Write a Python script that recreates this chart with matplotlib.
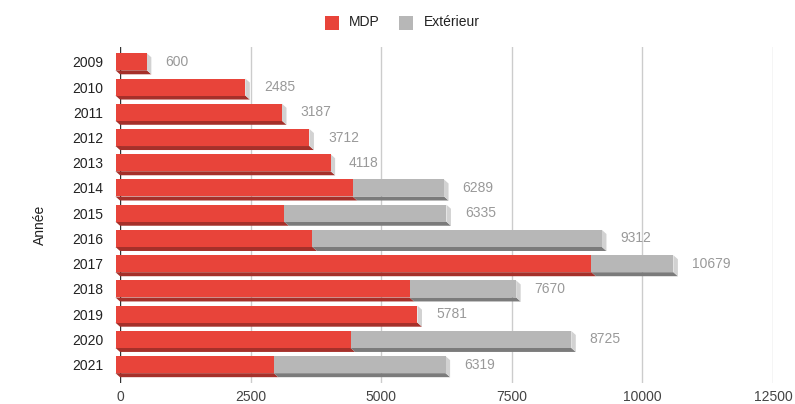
import matplotlib
matplotlib.use("Agg")
import matplotlib.pyplot as plt
from matplotlib.patches import Polygon, Rectangle

plt.rcParams['font.family'] = ['Liberation Sans', 'DejaVu Sans']

years = ["2009", "2010", "2011", "2012", "2013", "2014", "2015", "2016",
         "2017", "2018", "2019", "2020", "2021"]
mdp = [600, 2485, 3187, 3712, 4118, 4540, 3230, 3770, 9110, 5630, 5781, 4500, 3030]
totals = [600, 2485, 3187, 3712, 4118, 6289, 6335, 9312, 10679, 7670, 5781, 8725, 6319]
exterieur = [t - m for t, m in zip(totals, mdp)]
xticks = [0, 2500, 5000, 7500, 10000, 12500]
series_names = ["MDP", "Extérieur"]

W, H = 795, 404
fig = plt.figure(figsize=(W / 100, H / 100), dpi=100)

# axes geometry in pixels
ax_left, ax_right = 120, 773
ax_top, ax_bot = 47, 383
ax = fig.add_axes([ax_left / W, 1 - ax_bot / H, (ax_right - ax_left) / W, (ax_bot - ax_top) / H])

row0, rowstep = 63.8, 25.24
ylo = (ax_bot - row0) / rowstep
yhi = (ax_top - row0) / rowstep
ax.set_xlim(0, 12500)
ax.set_ylim(ylo, yhi)

ux = 12500 / (ax_right - ax_left)   # data units per px
uy = 1 / rowstep                     # rows per px
dx = 4.5 * ux
dy = 4 * uy
half = 10.5 * uy
front_h = 17 * uy

colors = {"MDP": ("#e8443a", "#a5302a"), "Extérieur": ("#b7b7b7", "#7b7b7b")}
side_col = "#d2d2d2"

for i, (m, e) in enumerate(zip(mdp, exterieur)):
    yt = i - half
    yb = yt + front_h
    segs = [(0, m, "MDP")]
    if e > 0:
        segs.append((m, m + e, "Extérieur"))
    for v0, v1, name in segs:
        fc, bc = colors[name]
        ax.add_patch(Polygon([(v0 - dx, yb), (v1 - dx, yb), (v1, yb + dy), (v0, yb + dy)],
                             closed=True, facecolor=bc, edgecolor="none", zorder=3,
                             clip_on=False))
        ax.add_patch(Rectangle((v0 - dx, yt), v1 - v0, front_h,
                               facecolor=fc, edgecolor="none", zorder=4, clip_on=False))
    vend = segs[-1][1]
    ax.add_patch(Polygon([(vend - dx, yt), (vend, yt + dy), (vend, yb + dy), (vend - dx, yb)],
                         closed=True, facecolor=side_col, edgecolor="none", zorder=3,
                         clip_on=False))
    ax.text(vend + 14 * ux, yt + front_h / 2, str(totals[i]), ha="left", va="center",
            fontsize=10, color="#999999", zorder=5)

# grid
for xv in xticks[1:]:
    ax.axvline(xv, color="#cccccc", lw=1, zorder=1)
ax.axvline(0, color="#333333", lw=1, zorder=2)

for s in ax.spines.values():
    s.set_visible(False)
ax.set_xticks(xticks)
ax.set_xticklabels([str(x) for x in xticks], fontsize=10, color="#444444")
ax.tick_params(axis="x", length=0, pad=5)
ax.set_yticks([i - half + front_h / 2 for i in range(len(years))])
ax.set_yticklabels(years, fontsize=10, color="#222222")
ax.tick_params(axis="y", length=0, pad=12)

fig.text(40 / W, 1 - 225 / H, "Année", rotation=90, ha="center", va="center",
         fontsize=10, color="#222222")

# legend
leg_items = [(325, series_names[0], colors["MDP"][0], 349),
             (399, series_names[1], colors["Extérieur"][0], 424)]
for xs, label, col, xt in leg_items:
    fig.patches.append(Rectangle((xs / W, 1 - 29.5 / H), 14 / W, 13 / H,
                                 transform=fig.transFigure, facecolor=col, edgecolor="none"))
    fig.text(xt / W, 1 - 22.5 / H, label, ha="left", va="center", fontsize=10, color="#222222")

fig.savefig("out.png", dpi=100)
